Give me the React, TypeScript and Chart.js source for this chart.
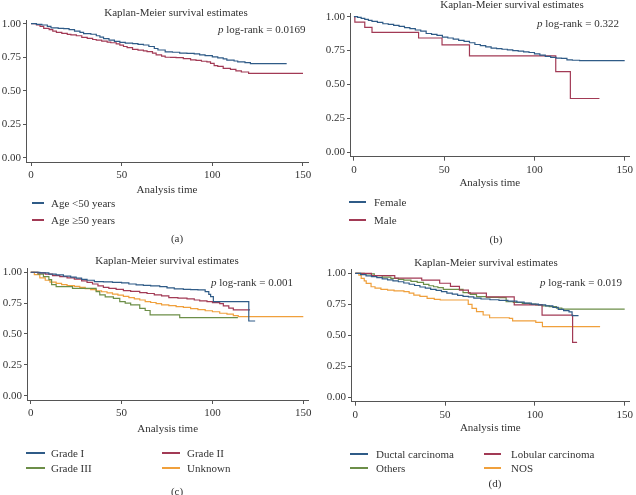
import React, { useEffect, useRef } from "react";
import { Chart, registerables } from "chart.js";

Chart.register(...registerables);

const FONT = '"Liberation Serif", "Times New Roman", serif';
const TEXT = "#333333";
const AXIS = "#555555";

const BLUE = "#2f5b87";
const RED = "#a23a55";
const GREEN = "#6c8e48";
const ORANGE = "#f0a03c";

const X_TICKS = [0, 50, 100, 150];
const Y_TICKS = [0, 0.25, 0.5, 0.75, 1];
const TITLE = "Kaplan-Meier survival estimates";
const X_TITLE = "Analysis time";

// ---- Panel (a): age ----
const tAgeUnder50 = [0, 3, 6, 9, 11, 15, 18, 21, 24, 27, 29, 33, 36, 38, 40, 43, 46, 49, 52, 56, 59, 62, 65, 68, 70, 74, 78, 82, 86, 90, 93, 96, 100, 103, 106, 108, 112, 114, 118, 121, 141];
const sAgeUnder50 = [1, 0.995, 0.99, 0.98, 0.968, 0.965, 0.963, 0.955, 0.945, 0.935, 0.926, 0.921, 0.91, 0.9, 0.888, 0.878, 0.868, 0.86, 0.855, 0.851, 0.845, 0.841, 0.83, 0.815, 0.804, 0.79, 0.787, 0.781, 0.779, 0.775, 0.768, 0.762, 0.753, 0.745, 0.738, 0.728, 0.722, 0.715, 0.71, 0.702, 0.702];
const tAgeOver50 = [0, 3, 5, 7, 10, 12, 14, 17, 20, 22, 25, 28, 31, 34, 36, 39, 42, 44, 47, 49, 51, 53, 56, 59, 62, 64, 67, 69, 72, 74, 77, 80, 84, 88, 91, 94, 97, 99, 101, 103, 106, 110, 113, 116, 120, 150];
const sAgeOver50 = [1, 0.99, 0.98, 0.965, 0.955, 0.945, 0.935, 0.928, 0.92, 0.917, 0.91, 0.898, 0.89, 0.882, 0.877, 0.87, 0.862, 0.858, 0.85, 0.84, 0.83, 0.822, 0.808, 0.803, 0.798, 0.792, 0.78, 0.768, 0.758, 0.75, 0.749, 0.747, 0.74, 0.73, 0.727, 0.72, 0.715, 0.705, 0.688, 0.682, 0.667, 0.66, 0.648, 0.64, 0.63, 0.63];

// ---- Panel (b): sex ----
const tFemale = [0, 2, 4, 6, 8, 10, 13, 16, 19, 22, 25, 28, 31, 34, 37, 40, 43, 46, 49, 52, 55, 58, 61, 64, 67, 70, 73, 76, 79, 82, 85, 88, 91, 94, 97, 100, 103, 106, 109, 112, 115, 118, 121, 125, 150];
const sFemale = [1, 0.995, 0.988, 0.98, 0.973, 0.965, 0.958, 0.948, 0.943, 0.936, 0.928, 0.92, 0.912, 0.902, 0.893, 0.876, 0.87, 0.862, 0.85, 0.843, 0.835, 0.825, 0.818, 0.808, 0.795, 0.786, 0.778, 0.768, 0.765, 0.76, 0.756, 0.75, 0.746, 0.74, 0.736, 0.726, 0.716, 0.708, 0.7, 0.695, 0.693, 0.682, 0.679, 0.676, 0.676];
const tMale = [0, 0.5, 6, 10, 35.8, 48.8, 64, 111.8, 119.9, 136];
const sMale = [1, 0.96, 0.921, 0.884, 0.843, 0.792, 0.711, 0.595, 0.397, 0.397];

// ---- Panel (c): grade ----
const tGrade1 = [0, 5, 10, 14, 18, 22, 25, 28, 31, 35, 40, 45, 50, 54, 58, 62, 66, 71, 75, 79, 84, 88, 92, 96, 98, 99, 100.5, 120, 123.5];
const sGrade1 = [1, 0.995, 0.985, 0.978, 0.968, 0.96, 0.952, 0.943, 0.935, 0.924, 0.922, 0.918, 0.914, 0.905, 0.897, 0.893, 0.89, 0.884, 0.874, 0.865, 0.862, 0.86, 0.857, 0.843, 0.82, 0.803, 0.762, 0.605, 0.605];
const tGrade2 = [0, 4, 8, 12, 16, 20, 24, 28, 31, 34, 37, 40, 43, 47, 51, 55, 60, 64, 68, 72, 76, 81, 86, 90, 93, 97, 100, 104, 106, 109, 111.5, 120.7];
const sGrade2 = [1, 0.995, 0.985, 0.973, 0.965, 0.955, 0.945, 0.93, 0.918, 0.905, 0.89, 0.878, 0.87, 0.862, 0.851, 0.845, 0.835, 0.828, 0.816, 0.808, 0.795, 0.79, 0.784, 0.775, 0.768, 0.762, 0.754, 0.745, 0.727, 0.71, 0.695, 0.695];
const tGrade3 = [0, 4, 7, 10, 11.5, 14, 23, 34.5, 36, 38, 41, 45.5, 49, 52, 55, 60, 63, 65.7, 82, 114];
const sGrade3 = [1, 0.985, 0.965, 0.94, 0.9, 0.884, 0.87, 0.87, 0.843, 0.816, 0.8, 0.789, 0.762, 0.75, 0.735, 0.708, 0.69, 0.654, 0.632, 0.632];
const tGradeUnknown = [0, 2, 5, 8, 10.6, 14, 17, 20, 24, 27, 30, 33, 36, 39, 42, 45, 48, 51, 54, 57, 60, 63, 66, 69, 72, 76, 80, 84, 88, 92, 96, 100, 104, 108, 111.5, 114.2, 150];
const sGradeUnknown = [1, 0.98, 0.955, 0.935, 0.92, 0.91, 0.9, 0.892, 0.885, 0.877, 0.868, 0.86, 0.85, 0.842, 0.833, 0.823, 0.815, 0.805, 0.795, 0.785, 0.775, 0.762, 0.755, 0.745, 0.735, 0.73, 0.722, 0.715, 0.705, 0.698, 0.688, 0.68, 0.668, 0.66, 0.649, 0.641, 0.641];

// ---- Panel (d): histology ----
const tDuctal = [0, 3, 6, 9, 12, 15, 18, 21, 24, 27, 30, 33, 36, 39, 42, 45, 48, 51, 54, 57, 60, 63, 66, 70, 75, 80, 85, 90, 94, 98, 102, 106, 110, 113, 116, 119, 120.7, 124.3];
const sDuctal = [1, 0.99, 0.98, 0.973, 0.965, 0.956, 0.948, 0.94, 0.932, 0.922, 0.912, 0.902, 0.89, 0.88, 0.87, 0.862, 0.852, 0.84, 0.832, 0.822, 0.815, 0.81, 0.8, 0.793, 0.787, 0.782, 0.776, 0.768, 0.76, 0.752, 0.745, 0.738, 0.725, 0.71, 0.7, 0.69, 0.659, 0.659];
const tLobular = [0, 9, 22, 37, 47, 53, 58, 63, 73, 88.5, 104, 121, 123.5];
const sLobular = [1, 0.981, 0.962, 0.945, 0.92, 0.895, 0.865, 0.84, 0.81, 0.745, 0.663, 0.444, 0.444];
const tOthers = [0, 5, 10.6, 15, 19.8, 24, 27, 31, 34.5, 38, 41, 43.6, 46, 49, 56.5, 60, 64, 67.5, 73, 80, 84, 88, 93, 97, 100.5, 104, 108, 112, 115, 150];
const sOthers = [1, 0.995, 0.981, 0.97, 0.96, 0.952, 0.946, 0.935, 0.927, 0.911, 0.9, 0.892, 0.885, 0.871, 0.871, 0.844, 0.83, 0.812, 0.806, 0.804, 0.771, 0.765, 0.758, 0.752, 0.745, 0.738, 0.731, 0.72, 0.712, 0.712];
const tNOS = [0, 2, 3.3, 5, 6.1, 8.8, 11, 14.3, 18, 21.6, 27.1, 30, 32.6, 36, 40, 44, 47.3, 60.2, 62.9, 65, 67.5, 71.2, 74.8, 85.8, 87.6, 100.5, 104.2, 136.3];
const sNOS = [1, 0.985, 0.96, 0.94, 0.919, 0.892, 0.88, 0.871, 0.865, 0.858, 0.852, 0.84, 0.825, 0.815, 0.798, 0.79, 0.785, 0.785, 0.75, 0.718, 0.691, 0.664, 0.642, 0.637, 0.616, 0.605, 0.57, 0.57];

type Series = { label: string; t: number[]; s: number[]; color: string };

type PanelProps = {
  left: number;
  top: number;
  width: number;
  height: number;
  areaLeft: number;
  areaTop: number;
  areaRight: number;
  xAxisH: number;
  xMin: number;
  xMax: number;
  yMin: number;
  yMax: number;
  series: Series[];
};

function KMPanel(p: PanelProps) {
  const ref = useRef<HTMLCanvasElement | null>(null);
  useEffect(() => {
    if (!ref.current) return;
    const font = { family: FONT, size: 11 };
    const chart = new Chart(ref.current, {
      type: "line",
      data: {
        datasets: p.series.map((sr) => ({
          label: sr.label,
          data: sr.t.map((x, i) => ({ x, y: sr.s[i] })),
          borderColor: sr.color,
          backgroundColor: sr.color,
          borderWidth: 1.2,
          pointRadius: 0,
          stepped: true,
          fill: false,
          tension: 0,
        })),
      },
      options: {
        responsive: false,
        animation: false,
        devicePixelRatio: 1,
        layout: { padding: { left: 0, top: p.areaTop, right: p.width - p.areaRight, bottom: 0 } },
        plugins: { legend: { display: false }, tooltip: { enabled: false }, title: { display: false } },
        scales: {
          x: {
            type: "linear",
            min: p.xMin,
            max: p.xMax,
            afterFit: (s: any) => {
              s.height = p.xAxisH;
            },
            afterBuildTicks: (s: any) => {
              s.ticks = X_TICKS.map((v) => ({ value: v }));
            },
            ticks: {
              color: TEXT,
              font,
              padding: 3,
              maxRotation: 0,
              autoSkip: false,
              callback: (v: any) => String(v),
            },
            grid: { display: true, drawOnChartArea: false, drawTicks: true, tickLength: 4, color: AXIS, lineWidth: 1 },
            border: { display: true, color: AXIS, width: 1 },
            title: { display: true, text: X_TITLE, color: TEXT, font, padding: { top: 0, bottom: 4 } },
          },
          y: {
            type: "linear",
            min: p.yMin,
            max: p.yMax,
            afterFit: (s: any) => {
              s.width = p.areaLeft;
            },
            afterBuildTicks: (s: any) => {
              s.ticks = Y_TICKS.map((v) => ({ value: v }));
            },
            ticks: {
              color: TEXT,
              font,
              padding: 2,
              autoSkip: false,
              callback: (v: any) => Number(v).toFixed(2),
            },
            grid: { display: true, drawOnChartArea: false, drawTicks: true, tickLength: 3, color: AXIS, lineWidth: 1 },
            border: { display: true, color: AXIS, width: 1 },
          },
        },
      },
    } as any);
    return () => chart.destroy();
  }, []);
  return (
    <canvas
      ref={ref}
      width={p.width}
      height={p.height}
      style={{ position: "absolute", left: p.left, top: p.top, width: p.width, height: p.height }}
    />
  );
}

function Txt(props: { x: number; y: number; center?: boolean; children: React.ReactNode }) {
  return (
    <div
      style={{
        position: "absolute",
        left: props.x,
        top: props.y,
        transform: `translate(${props.center ? "-50%" : "0"}, -50%)`,
        whiteSpace: "nowrap",
        fontFamily: FONT,
        fontSize: 11,
        lineHeight: "13px",
        color: TEXT,
      }}
    >
      {props.children}
    </div>
  );
}

function LegendItem(props: { x1: number; x2: number; tx: number; y: number; color: string; label: string }) {
  return (
    <>
      <div
        style={{
          position: "absolute",
          left: props.x1,
          top: props.y - 0.6,
          width: props.x2 - props.x1,
          height: 1.2,
          background: props.color,
        }}
      />
      <Txt x={props.tx} y={props.y}>
        {props.label}
      </Txt>
    </>
  );
}

const seriesA: Series[] = [
  { label: "Age <50 years", t: tAgeUnder50, s: sAgeUnder50, color: BLUE },
  { label: "Age \u226550 years", t: tAgeOver50, s: sAgeOver50, color: RED },
];
const seriesB: Series[] = [
  { label: "Female", t: tFemale, s: sFemale, color: BLUE },
  { label: "Male", t: tMale, s: sMale, color: RED },
];
const seriesC: Series[] = [
  { label: "Grade I", t: tGrade1, s: sGrade1, color: BLUE },
  { label: "Grade II", t: tGrade2, s: sGrade2, color: RED },
  { label: "Grade III", t: tGrade3, s: sGrade3, color: GREEN },
  { label: "Unknown", t: tGradeUnknown, s: sGradeUnknown, color: ORANGE },
];
const seriesD: Series[] = [
  { label: "Ductal carcinoma", t: tDuctal, s: sDuctal, color: BLUE },
  { label: "Lobular carcinoma", t: tLobular, s: sLobular, color: RED },
  { label: "Others", t: tOthers, s: sOthers, color: GREEN },
  { label: "NOS", t: tNOS, s: sNOS, color: ORANGE },
];

function PLogRank(props: { x: number; y: number; value: string }) {
  return (
    <Txt x={props.x} y={props.y}>
      <i>p</i> log-rank = {props.value}
    </Txt>
  );
}

export default function App() {
  return (
    <div style={{ position: "absolute", left: 0, top: 0, width: 636, height: 495, background: "#ffffff", overflow: "hidden" }}>
      {/* (a) */}
      <KMPanel left={0} top={0} width={318} height={201} areaLeft={26} areaTop={20.7} areaRight={308} xAxisH={39}
        xMin={-2.76} xMax={152.76} yMin={-0.03} yMax={1.022} series={seriesA} />
      <Txt x={176} y={12} center>{TITLE}</Txt>
      <PLogRank x={218} y={29} value="0.0169" />
      <LegendItem x1={32} x2={44} tx={51} y={203} color={BLUE} label={seriesA[0].label} />
      <LegendItem x1={32} x2={44} tx={51} y={220} color={RED} label={seriesA[1].label} />
      <Txt x={177} y={238} center>(a)</Txt>

      {/* (b) */}
      <KMPanel left={318} top={0} width={318} height={194} areaLeft={32} areaTop={13.3} areaRight={315} xAxisH={37.3}
        xMin={-2.19} xMax={152.74} yMin={-0.032} yMax={1.025} series={seriesB} />
      <Txt x={512} y={4} center>{TITLE}</Txt>
      <PLogRank x={537} y={23} value="0.322" />
      <LegendItem x1={349} x2={366} tx={374} y={202} color={BLUE} label={seriesB[0].label} />
      <LegendItem x1={349} x2={366} tx={374} y={220} color={RED} label={seriesB[1].label} />
      <Txt x={496} y={239} center>(b)</Txt>

      {/* (c) */}
      <KMPanel left={0} top={245} width={318} height={195} areaLeft={27} areaTop={23.3} areaRight={308.3} xAxisH={40}
        xMin={-2.04} xMax={152.75} yMin={-0.035} yMax={1.032} series={seriesC} />
      <Txt x={167} y={260} center>{TITLE}</Txt>
      <PLogRank x={211} y={282} value="0.001" />
      <LegendItem x1={26} x2={45} tx={51} y={453} color={BLUE} label={seriesC[0].label} />
      <LegendItem x1={162} x2={180} tx={187} y={453} color={RED} label={seriesC[1].label} />
      <LegendItem x1={26} x2={45} tx={51} y={468} color={GREEN} label={seriesC[2].label} />
      <LegendItem x1={162} x2={180} tx={187} y={468} color={ORANGE} label={seriesC[3].label} />
      <Txt x={177} y={491} center>(c)</Txt>

      {/* (d) */}
      <KMPanel left={318} top={245} width={318} height={194} areaLeft={33} areaTop={24} areaRight={315} xAxisH={37.3}
        xMin={-2.37} xMax={152.75} yMin={-0.035} yMax={1.035} series={seriesD} />
      <Txt x={486} y={262} center>{TITLE}</Txt>
      <PLogRank x={540} y={282} value="0.019" />
      <LegendItem x1={350} x2={368} tx={376} y={454} color={BLUE} label={seriesD[0].label} />
      <LegendItem x1={484} x2={501} tx={511} y={454} color={RED} label={seriesD[1].label} />
      <LegendItem x1={350} x2={368} tx={376} y={468} color={GREEN} label={seriesD[2].label} />
      <LegendItem x1={484} x2={501} tx={511} y={468} color={ORANGE} label={seriesD[3].label} />
      <Txt x={495} y={483} center>(d)</Txt>
    </div>
  );
}
